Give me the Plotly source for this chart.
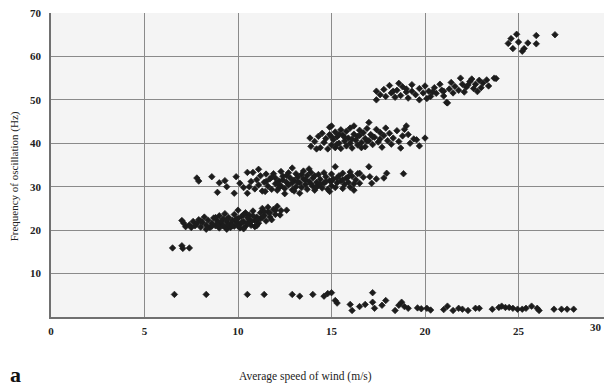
import plotly.graph_objects as go

# Wind speed (m/s) vs frequency of oscillation (Hz)
low_x = [6.6, 8.3, 10.5, 11.4, 12.9, 13.3, 14.0, 14.6, 14.8, 15.0, 15.2, 15.3, 16.0, 16.1, 16.5, 16.8,
         17.2, 17.2, 17.3, 17.7, 17.9, 18.4, 18.6, 18.75, 18.9, 19.1, 19.6, 19.8, 20.1, 20.3, 21.0, 21.2,
         21.5, 21.8, 22.0, 22.3, 22.7, 22.9, 23.6, 23.95, 24.1, 24.3, 24.5, 24.7, 24.95, 25.2, 25.4, 25.7,
         26.0, 26.1, 26.9, 27.3, 27.6, 27.95]
low_y = [5.2, 5.2, 5.2, 5.2, 5.2, 4.8, 5.2, 4.8, 5.4, 5.6, 3.8, 3.2, 2.9, 1.5, 2.4, 2.9,
         3.4, 5.6, 2.0, 2.7, 3.8, 1.5, 2.7, 3.4, 2.4, 2.0, 2.1, 1.9, 2.0, 1.6, 1.7, 2.5,
         1.5, 2.0, 1.8, 1.5, 2.0, 2.0, 1.8, 2.2, 2.5, 2.2, 2.2, 2.0, 1.8, 1.8, 2.0, 2.5,
         2.0, 1.5, 1.8, 1.8, 1.8, 1.8]

b16_x = [6.5, 7.0, 7.05, 7.4]
b16_y = [15.9, 16.4, 15.8, 15.9]

b20_x = [7.0, 7.2, 7.1, 7.4, 7.6, 7.5, 7.8, 7.9, 8.0, 8.1, 8.2, 8.3, 8.4, 8.5, 8.6, 8.7, 8.8, 8.9,
         9.0, 9.0, 9.1, 9.2, 9.3, 9.3, 9.4, 9.5, 9.6, 9.6, 9.7, 9.8, 9.8, 9.9, 10.0, 10.0, 10.1, 10.1,
         10.2, 10.3, 10.4, 10.4, 10.5, 10.6, 10.6, 10.7, 10.8, 10.9, 10.9, 11.0, 11.1, 11.2, 11.2, 11.3,
         11.4, 11.5, 11.6, 11.6, 11.7, 11.8, 11.9, 12.0, 12.1, 12.25, 12.3, 12.6, 11.0, 10.3, 9.4, 8.3,
         8.6, 8.9, 9.1, 9.2, 9.4, 9.5, 9.7, 9.9, 10.0, 10.2, 10.3, 10.5, 10.7, 10.8, 11.0, 11.3,
         11.4, 11.7, 12.0, 8.0, 7.7, 8.8]
b20_y = [22.2, 20.8, 21.6, 21.2, 22.0, 20.6, 21.5, 22.4, 20.7, 21.8, 23.0, 21.1, 22.3, 20.6, 21.6, 22.8, 21.0, 22.1,
         20.5, 23.3, 21.5, 22.6, 20.8, 23.8, 21.9, 22.9, 20.6, 21.4, 22.3, 23.6, 20.9, 21.8, 22.7, 24.6, 20.5, 21.3,
         23.2, 22.0, 24.0, 20.9, 21.6, 22.5, 23.5, 21.1, 24.4, 20.8, 22.2, 23.0, 21.6, 24.0, 22.6, 25.0,
         23.4, 22.1, 25.3, 24.2, 23.0, 22.4, 24.8, 23.6, 25.5, 23.5, 24.5, 24.6, 21.0, 20.3, 20.2, 20.2,
         20.9, 21.5, 22.0, 21.0, 22.4, 21.2, 21.0, 22.5, 21.0, 21.8, 23.6, 22.9, 22.0, 23.3, 22.4, 22.9,
         24.3, 24.0, 24.6, 22.1, 21.0, 22.9]

b30_x = [7.8, 7.9, 8.6, 8.9, 9.0, 9.3, 9.4, 9.8, 9.9, 10.1, 10.5, 10.8, 10.5, 10.3, 10.7, 10.6,
         10.9, 11.0, 11.1, 11.2, 11.3, 11.4, 11.45, 11.5, 11.6, 11.7, 11.8, 11.9, 12.0, 12.0, 12.1, 12.2,
         12.3, 12.3, 12.4, 12.5, 12.6, 12.7, 12.7, 12.8, 12.9, 12.9, 13.0, 13.1, 13.1, 13.2, 13.3, 13.3,
         13.4, 13.5, 13.5, 13.6, 13.7, 13.7, 13.8, 13.9, 14.0, 14.0, 14.1, 14.2, 14.3, 14.3, 14.4, 14.5,
         14.6, 14.6, 14.7, 14.8, 14.9, 15.0, 15.0, 15.1, 15.2, 15.2, 15.3, 15.4, 15.5, 15.6, 15.6, 15.7,
         15.8, 15.9, 16.0, 16.0, 16.1, 16.2, 16.3, 16.4, 16.5, 16.5, 16.7, 17.0, 17.05, 17.15, 17.4, 17.8,
         17.95, 18.85, 16.2, 14.9, 12.5, 11.1, 13.8,
         11.5, 11.8, 12.1, 12.4, 12.6, 12.9, 13.2, 13.4, 13.6, 13.9, 14.1, 14.4, 14.7, 15.0, 15.3, 15.6,
         15.9, 13.0, 14.2, 12.2]
b30_y = [32.0, 31.3, 32.3, 28.7, 30.9, 31.4, 30.0, 28.5, 32.3, 30.8, 33.3, 33.3, 28.5, 29.8, 31.2, 30.0,
         29.5, 31.6, 30.4, 32.5, 29.0, 31.0, 28.9, 32.9, 30.1, 31.8, 29.4, 33.0, 30.7, 32.0, 29.2, 31.3,
         33.5, 30.2, 32.4, 29.6, 31.0, 33.2, 30.4, 32.0, 29.3, 34.3, 31.5, 30.0, 33.0, 32.2, 28.5, 30.9,
         29.8, 31.8, 33.6, 30.5, 32.6, 29.4, 31.2, 33.3, 30.1, 32.0, 29.2, 31.0, 32.8, 30.4, 31.7, 29.7,
         33.2, 30.8, 32.3, 29.4, 31.4, 30.2, 32.9, 31.8, 34.6, 29.8, 30.9, 32.5, 31.3, 29.6, 33.1, 30.5,
         32.0, 31.0, 33.4, 29.9, 32.4, 30.7, 31.6, 33.0, 33.1, 30.8, 32.2, 34.6, 32.3, 30.8, 31.8, 32.0,
         33.1, 33.0, 29.2, 28.9, 28.4, 34.0, 34.1,
         31.2, 32.2, 30.8, 31.6, 32.6, 30.9, 31.0, 32.8, 31.6, 30.6, 32.5, 30.6, 31.2, 31.3, 32.0, 31.6,
         32.3, 29.0, 29.9, 29.8]

b40_x = [13.85, 13.9, 14.1, 14.3, 14.4, 14.5, 14.6, 14.7, 14.8, 14.9, 14.9, 15.0, 15.1, 15.2, 15.2, 15.3,
         15.4, 15.5, 15.5, 15.6, 15.7, 15.8, 15.8, 15.9, 16.0, 16.0, 16.1, 16.2, 16.3, 16.4, 16.4, 16.5,
         16.6, 16.7, 16.8, 16.8, 16.9, 17.0, 17.0, 17.1, 17.2, 17.3, 17.4, 17.5, 17.6, 17.7, 17.8, 17.9,
         18.0, 18.1, 18.2, 18.3, 18.5, 18.6, 18.7, 18.8, 19.0, 19.1, 19.2, 19.4, 19.55, 19.7, 20.0, 18.9,
         16.2, 15.0, 14.2,
         15.0, 15.4, 15.7, 16.1, 16.5, 16.9, 17.2, 17.6, 15.3, 16.6]
b40_y = [41.2, 39.3, 40.4, 41.6, 39.0, 42.3, 40.2, 41.1, 38.7, 43.7, 42.0, 39.6, 40.8, 42.6, 39.0, 41.5,
         40.0, 43.1, 38.8, 41.9, 40.5, 39.4, 42.8, 41.2, 40.0, 43.5, 38.9, 42.1, 40.7, 39.6, 41.6, 43.0,
         40.2, 42.4, 39.2, 41.1, 43.4, 44.8, 40.6, 42.0, 39.7, 41.4, 43.2, 40.3, 42.5, 39.1, 41.8, 43.5,
         40.6, 42.3, 39.8, 41.2, 42.9, 40.4, 38.9, 41.7, 44.0, 42.0, 40.0, 41.0, 40.8, 39.4, 41.2, 43.2,
         44.0, 44.0, 38.7,
         41.5, 42.0, 41.4, 41.0, 41.8, 40.5, 41.5, 41.0, 39.8, 39.0]

b50_x = [17.4, 17.4, 17.6, 17.8, 17.9, 18.1, 18.2, 18.4, 18.5, 18.7, 18.8, 19.0, 19.1, 19.3, 19.3, 19.5,
         19.7, 19.7, 19.9, 20.0, 20.2, 20.3, 20.5, 20.6, 20.8, 20.9, 21.0, 21.15, 21.2, 21.3, 21.4, 21.5,
         21.6, 21.8, 21.9, 22.0, 22.1, 22.2, 22.4, 22.5, 22.6, 22.7, 22.9, 23.0, 23.1, 23.3, 23.4, 23.7,
         23.8, 22.8, 20.1, 18.6, 19.0, 20.4, 21.0, 22.3, 18.3]
b50_y = [52.0, 50.0, 51.2, 52.4, 50.8, 53.3, 51.6, 50.6, 52.2, 51.0, 53.0, 51.8, 50.4, 53.5, 52.0, 51.2,
         50.0, 52.6, 51.6, 53.2, 52.0, 50.8, 52.8, 51.5, 53.6, 52.2, 50.9, 49.4, 49.3, 52.5, 54.0, 51.6,
         53.1, 52.2, 55.0, 53.6, 51.8, 52.9, 54.2, 54.8, 52.6, 53.6, 54.5, 52.8, 53.9, 54.6, 53.2, 55.0,
         54.9, 51.9, 50.3, 53.8, 52.5, 51.8, 52.0, 53.4, 52.0]

b60_x = [24.45, 24.6, 24.7, 24.9, 25.0, 25.2, 25.3, 25.5, 25.95, 25.95, 26.95]
b60_y = [63.0, 64.1, 61.8, 65.1, 63.3, 61.2, 61.8, 63.1, 64.8, 62.9, 65.0]

x_ticks = [0, 5, 10, 15, 20, 25, 30]
x_labels = ["0", "5", "10", "15", "20", "25", ""]   # "30" drawn near the right edge below
y_ticks = [10, 20, 30, 40, 50, 60, 70]

SERIF = "Liberation Serif"
fig = go.Figure()
for xs, ys in [(low_x, low_y), (b16_x, b16_y), (b20_x, b20_y), (b30_x, b30_y),
               (b40_x, b40_y), (b50_x, b50_y), (b60_x, b60_y)]:
    fig.add_trace(go.Scatter(x=xs, y=ys, mode="markers",
                             marker=dict(symbol="diamond", size=5, color="#1c1c1c",
                                         line=dict(width=0.7, color="#1c1c1c")),
                             showlegend=False, hoverinfo="x+y"))

# page body has an 8px offset, so the figure is sized to fit inside the window
fig.update_layout(
    width=604, height=379,
    margin=dict(l=43, r=0, t=5, b=70, autoexpand=False),
    paper_bgcolor="white",
    plot_bgcolor="#f4f4f4",
    font=dict(family=SERIF, color="#222"),
    xaxis=dict(range=[0, 30], tickvals=x_ticks, ticktext=x_labels,
               showgrid=True, gridcolor="#8a8a8a", gridwidth=1, zeroline=False,
               showline=True, linecolor="#707070", linewidth=1.5,
               ticks="", ticklabelstandoff=3, ticklabeloverflow="allow",
               tickfont=dict(family=SERIF, size=11, color="#222", weight="bold")),
    yaxis=dict(range=[0, 70], tickvals=y_ticks, ticktext=[str(v) for v in y_ticks],
               showgrid=True, gridcolor="#8a8a8a", gridwidth=1, zeroline=False,
               showline=True, linecolor="#707070", linewidth=1.5,
               ticks="", ticklabelstandoff=6, ticklabeloverflow="allow",
               tickfont=dict(family=SERIF, size=11, color="#222", weight="bold")),
    annotations=[
        dict(text="30", xref="paper", yref="paper",
             x=0.986, y=-0.034, xanchor="right", yanchor="middle", showarrow=False,
             font=dict(family=SERIF, size=11, color="#222", weight="bold")),
        dict(text="Average speed of wind (m/s)", xref="paper", yref="paper",
             x=0.4545, y=-0.197, xanchor="center", yanchor="middle", showarrow=False,
             font=dict(family=SERIF, size=11.5, color="#222")),
        dict(text="Frequency of oscillation (Hz)", xref="paper", yref="paper",
             x=-0.0635, y=0.464, xanchor="center", yanchor="middle", showarrow=False,
             textangle=-90, font=dict(family=SERIF, size=11, color="#222")),
        dict(text="a", xref="paper", yref="paper",
             x=-0.064, y=-0.19, xanchor="center", yanchor="middle", showarrow=False,
             font=dict(family=SERIF, size=22, color="#111", weight="bold")),
    ],
)

fig.write_html("out.html")
